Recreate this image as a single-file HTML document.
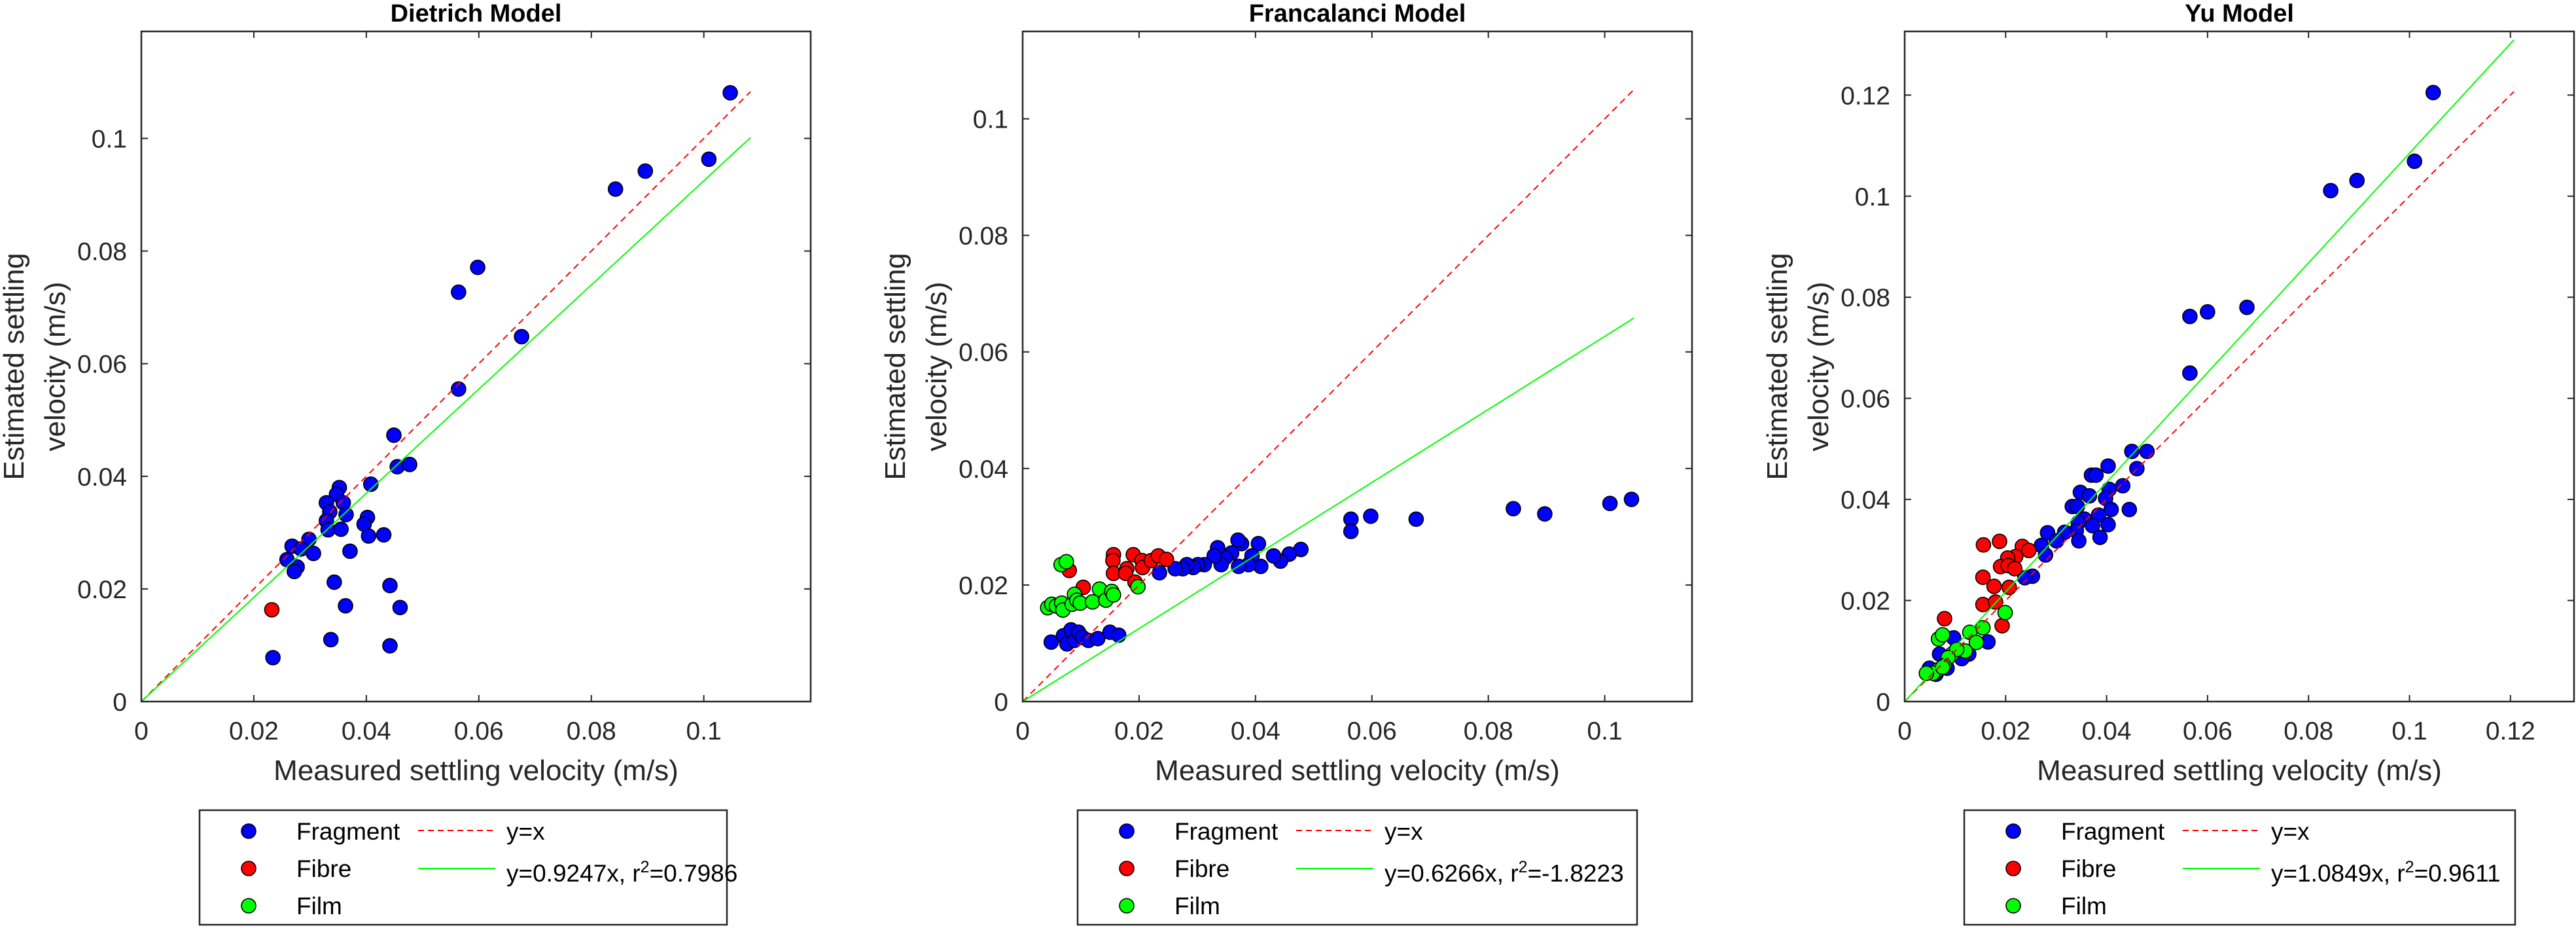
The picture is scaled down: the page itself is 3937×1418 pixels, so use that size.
<!DOCTYPE html>
<html><head><meta charset="utf-8"><style>
html,body{margin:0;padding:0;background:#fff;}
svg{display:block;font-family:"Liberation Sans",Arial,sans-serif;}
</style></head><body>
<svg id="fig" width="3937" height="1418" viewBox="0 0 3937 1418" xmlns="http://www.w3.org/2000/svg"></svg>
<script>
// ---------- Data ----------
const panelTitles = ["Dietrich Model", "Francalanci Model", "Yu Model"];
const fitLabels = ["y=0.9247x, r\u00b2=0.7986", "y=0.6266x, r\u00b2=-1.8223", "y=1.0849x, r\u00b2=0.9611"];
const fitSlopes = [0.9247, 0.6266, 1.0849];
const lineEnds = [0.1083, 0.105, 0.1207];
const axisMax = [0.119, 0.115, 0.1326];
const tickVals1 = [0, 0.02, 0.04, 0.06, 0.08, 0.1];
const tickVals2 = [0, 0.02, 0.04, 0.06, 0.08, 0.1];
const tickVals3 = [0, 0.02, 0.04, 0.06, 0.08, 0.1, 0.12];
const tickLabels1 = ["0", "0.02", "0.04", "0.06", "0.08", "0.1"];
const tickLabels2 = ["0", "0.02", "0.04", "0.06", "0.08", "0.1"];
const tickLabels3 = ["0", "0.02", "0.04", "0.06", "0.08", "0.1", "0.12"];

// Dietrich
const d_fragX = [0.1047,0.1009,0.0896,0.0843,0.0598,0.0564,0.0676,0.0564,0.0449,0.0455,0.0477,0.0408,0.0352,0.0347,0.0329,0.0359,0.0335,0.0364,0.0329,0.0402,0.0396,0.0332,0.0355,0.0404,0.0431,0.0298,0.0268,0.0284,0.0306,0.0371,0.0259,0.0277,0.0272,0.0343,0.0442,0.0363,0.0460,0.0337,0.0442,0.0234];
const d_fragY = [0.1081,0.0963,0.0942,0.0910,0.0771,0.0727,0.0648,0.0555,0.0473,0.0417,0.0421,0.0386,0.0380,0.0368,0.0353,0.0353,0.0337,0.0332,0.0321,0.0327,0.0315,0.0305,0.0306,0.0294,0.0296,0.0288,0.0276,0.0271,0.0263,0.0267,0.0252,0.0239,0.0231,0.0212,0.0206,0.0170,0.0167,0.0110,0.0099,0.0078];
const d_fibreX = [0.0232];
const d_fibreY = [0.0163];
const d_filmX = [];
const d_filmY = [];

// Francalanci
const f_fragX = [0.1046,0.1009,0.0897,0.0843,0.0676,0.0598,0.0564,0.0564,0.0478,0.0458,0.0443,0.0431,0.0409,0.0405,0.0394,0.0388,0.0376,0.0370,0.0371,0.0359,0.0348,0.0341,0.0335,0.0329,0.0312,0.0301,0.0293,0.0282,0.0275,0.0262,0.0235,0.0049,0.0070,0.0076,0.0083,0.0089,0.0096,0.0103,0.0113,0.0129,0.0150,0.0165];
const f_fragY = [0.0347,0.0340,0.0322,0.0331,0.0313,0.0318,0.0313,0.0292,0.0261,0.0253,0.0241,0.0250,0.0232,0.0271,0.0250,0.0235,0.0271,0.0277,0.0232,0.0255,0.0247,0.0235,0.0264,0.0250,0.0235,0.0235,0.0230,0.0235,0.0228,0.0228,0.0221,0.0102,0.0113,0.0099,0.0123,0.0105,0.0119,0.0110,0.0105,0.0108,0.0119,0.0114];
const f_fibreX = [0.0156,0.0155,0.0156,0.0190,0.0179,0.0177,0.0205,0.0206,0.0221,0.0233,0.0247,0.0193,0.0080,0.0104];
const f_fibreY = [0.0252,0.0242,0.0220,0.0252,0.0228,0.0220,0.0242,0.0230,0.0242,0.0250,0.0244,0.0205,0.0225,0.0196];
const f_filmX = [0.0066,0.0075,0.0043,0.0050,0.0058,0.0067,0.0069,0.0085,0.0089,0.0093,0.0099,0.0120,0.0132,0.0143,0.0153,0.0156,0.0198];
const f_filmY = [0.0235,0.0240,0.0161,0.0167,0.0164,0.0169,0.0157,0.0167,0.0184,0.0174,0.0169,0.0171,0.0193,0.0174,0.0189,0.0183,0.0197];

// Yu
const y_fragX = [0.1047,0.1010,0.0896,0.0844,0.0678,0.0600,0.0565,0.0565,0.0480,0.0450,0.0460,0.0403,0.0370,0.0379,0.0432,0.0348,0.0405,0.0366,0.0332,0.0342,0.0398,0.0445,0.0409,0.0384,0.0356,0.0344,0.0403,0.0372,0.0340,0.0317,0.0283,0.0387,0.0345,0.0301,0.0271,0.0279,0.0253,0.0238,0.0049,0.0069,0.0097,0.0165,0.0127,0.0113,0.0084,0.0062];
const y_fragY = [0.1205,0.1069,0.1031,0.1011,0.0780,0.0771,0.0762,0.0650,0.0495,0.0495,0.0461,0.0466,0.0448,0.0448,0.0427,0.0414,0.0420,0.0407,0.0386,0.0386,0.0402,0.0380,0.0380,0.0369,0.0361,0.0354,0.0350,0.0348,0.0338,0.0335,0.0334,0.0325,0.0318,0.0318,0.0309,0.0290,0.0248,0.0245,0.0066,0.0094,0.0126,0.0118,0.0094,0.0085,0.0066,0.0054];
const y_fibreX = [0.0156,0.0188,0.0233,0.0246,0.0220,0.0204,0.0190,0.0205,0.0218,0.0155,0.0177,0.0207,0.0155,0.0180,0.0193,0.0079];
const y_fibreY = [0.0310,0.0317,0.0307,0.0299,0.0287,0.0284,0.0267,0.0269,0.0263,0.0246,0.0228,0.0226,0.0192,0.0197,0.0150,0.0164];
const y_filmX = [0.0067,0.0075,0.0199,0.0155,0.0129,0.0142,0.0120,0.0094,0.0103,0.0086,0.0078,0.0067,0.0056,0.0043,0.0075];
const y_filmY = [0.0124,0.0132,0.0176,0.0146,0.0137,0.0117,0.0100,0.0094,0.0103,0.0087,0.0071,0.0063,0.0056,0.0056,0.0068];

// ---------- Rendering ----------
const NS = "http://www.w3.org/2000/svg";
const svg = document.getElementById('fig');
function mk(tag, attrs, parent){
  const e = document.createElementNS(NS, tag);
  for (const k in attrs) e.setAttribute(k, attrs[k]);
  (parent||svg).appendChild(e);
  return e;
}
const AX = "#262626";
const panelLefts = [216, 1563, 2911];
const legendLefts = [305, 1647, 3002];
const legendWidths = [806, 855, 842];
const TOP = 48, BOT = 1072, W = 1023;
const tickVals = [tickVals1, tickVals2, tickVals3];
const tickLabels = [tickLabels1, tickLabels2, tickLabels3];
const series = [
  [[d_fragX,d_fragY],[d_fibreX,d_fibreY],[d_filmX,d_filmY]],
  [[f_fragX,f_fragY],[f_fibreX,f_fibreY],[f_filmX,f_filmY]],
  [[y_fragX,y_fragY],[y_fibreX,y_fibreY],[y_filmX,y_filmY]]
];
const seriesColors = ["#0000ff", "#ff0000", "#00ff00"];
const seriesNames = ["Fragment", "Fibre", "Film"];
const seriesKeys = ["fragment", "fibre", "film"];

for (let p = 0; p < 3; p++) {
  const L = panelLefts[p];
  const max = axisMax[p];
  const sx = v => L + v / max * W;
  const sy = v => BOT - v / max * (BOT - TOP);
  const g = mk('g', {}, svg);
  
  

  const title = mk('text', {x: L + W/2, y: 33, 'text-anchor': 'middle', 'font-size': 38, 'font-weight': 'bold', fill: '#000'}, g);
  
  
  title.textContent = panelTitles[p];

  const tv = tickVals[p];
  for (let i = 0; i < tv.length; i++) {
    const x = sx(tv[i]), y = sy(tv[i]);
    mk('line', {x1: x, y1: BOT, x2: x, y2: BOT - 10, stroke: AX, 'stroke-width': 2}, g);
    mk('line', {x1: x, y1: TOP, x2: x, y2: TOP + 10, stroke: AX, 'stroke-width': 2}, g);
    mk('line', {x1: L, y1: y, x2: L + 10, y2: y, stroke: AX, 'stroke-width': 2}, g);
    mk('line', {x1: L + W, y1: y, x2: L + W - 10, y2: y, stroke: AX, 'stroke-width': 2}, g);
    const xt = mk('text', {x: x, y: 1130, 'text-anchor': 'middle', 'font-size': 39, fill: AX}, g);
    
    
    xt.textContent = tickLabels[p][i];
    const yt = mk('text', {x: L - 22, y: y + 14, 'text-anchor': 'end', 'font-size': 39, fill: AX}, g);
    
    
    yt.textContent = tickLabels[p][i];
  }

  for (let s = 0; s < 3; s++) {
    const xs = series[p][s][0], ys = series[p][s][1];
    for (let i = 0; i < xs.length; i++) {
      const c = mk('ellipse', {cx: sx(xs[i]), cy: sy(ys[i]), rx: 11, ry: 11, fill: seriesColors[s], stroke: '#000', 'stroke-width': 1.6}, g);
      
      
    }
  }

  const e = lineEnds[p];
  const idl = mk('line', {x1: sx(0), y1: sy(0), x2: sx(e), y2: sy(e), stroke: '#ff0000', 'stroke-width': 2, 'stroke-dasharray': '10 7'}, g);
  
  
  const fl = mk('line', {x1: sx(0), y1: sy(0), x2: sx(e), y2: sy(e * fitSlopes[p]), stroke: '#00ff00', 'stroke-width': 2}, g);
  
  

  const fr = mk('rect', {x: L, y: TOP, width: W, height: BOT - TOP, fill: 'none', stroke: AX, 'stroke-width': 2.5}, g);
  
  

  const xl = mk('text', {x: L + W/2, y: 1192, 'text-anchor': 'middle', 'font-size': 44, fill: AX}, g);
  
  
  xl.textContent = 'Measured settling velocity (m/s)';
  const yc = (TOP + BOT) / 2;
  const yl1 = mk('text', {x: 0, y: 0, 'text-anchor': 'middle', 'font-size': 44, fill: AX, transform: 'translate(' + (L - 195 + 15) + ',' + yc + ') rotate(-90)'}, g);
  
  
  yl1.textContent = 'Estimated settling';
  const yl2 = mk('text', {x: 0, y: 0, 'text-anchor': 'middle', 'font-size': 44, fill: AX, transform: 'translate(' + (L - 132 + 15) + ',' + yc + ') rotate(-90)'}, g);
  
  
  yl2.textContent = 'velocity (m/s)';

  const LL = legendLefts[p];
  const lg = mk('g', {}, g);
  
  
  mk('rect', {x: LL, y: 1238, width: legendWidths[p], height: 175, fill: '#fff', stroke: AX, 'stroke-width': 2.5}, lg);
  const rows = [1270, 1327, 1384];
  for (let s = 0; s < 3; s++) {
    const m = mk('ellipse', {cx: LL + 75, cy: rows[s], rx: 11, ry: 11, fill: seriesColors[s], stroke: '#000', 'stroke-width': 1.6}, lg);
    
    
    const t = mk('text', {x: LL + 148, y: rows[s] + 13, 'font-size': 37, fill: '#000'}, lg);
    
    
    t.textContent = seriesNames[s];
  }
  mk('line', {x1: LL + 334, y1: 1269, x2: LL + 452, y2: 1269, stroke: '#ff0000', 'stroke-width': 2, 'stroke-dasharray': '9 6'}, lg);
  const t1 = mk('text', {x: LL + 469, y: 1283, 'font-size': 37, fill: '#000'}, lg);
  
  
  t1.textContent = 'y=x';
  mk('line', {x1: LL + 334, y1: 1327, x2: LL + 452, y2: 1327, stroke: '#00ff00', 'stroke-width': 2}, lg);
  const t2 = mk('text', {x: LL + 469, y: 1347, 'font-size': 37, fill: '#000'}, lg);
  
  
  const parts = fitLabels[p].split('\u00b2');
  const a = mk('tspan', {}, t2); a.textContent = parts[0];
  const b = mk('tspan', {dy: -14, 'font-size': 25}, t2); b.textContent = '2';
  const c = mk('tspan', {dy: 14}, t2); c.textContent = parts[1];
}
</script>
</body></html>
